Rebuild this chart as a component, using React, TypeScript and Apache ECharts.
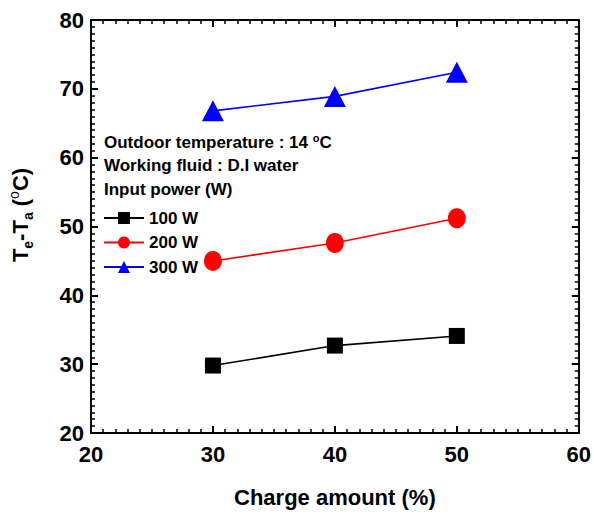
import React, { useEffect, useRef } from "react";
import * as echarts from "echarts";

const chargeAmount = [30, 40, 50];
const power100 = [29.8, 32.7, 34.1];
const power200 = [45.0, 47.6, 51.2];
const power300 = [66.8, 68.9, 72.4];
const seriesNames = ["100 W", "200 W", "300 W"];
const headerLines = ["Outdoor temperature : 14 {sup|o}C", "Working fluid : D.I water", "Input power (W)"];

const FONT = "'Liberation Sans', Arial, sans-serif";

function axisCommon(showLabel: boolean, min: number, max: number) {
  return {
    type: "value" as const,
    min,
    max,
    interval: 10,
    axisLine: { show: true, lineStyle: { color: "#000", width: 2 } },
    axisTick: { show: true, inside: true, length: 7, lineStyle: { color: "#000", width: 2 } },
    minorTick: { show: true, splitNumber: 10, length: 4, lineStyle: { color: "#000", width: 1.5 } },
    splitLine: { show: false },
    minorSplitLine: { show: false },
    axisLabel: {
      show: showLabel,
      color: "#000",
      fontFamily: FONT,
      fontWeight: "bold" as const,
      fontSize: 22,
    },
  };
}

export default function App() {
  const ref = useRef<HTMLDivElement>(null);
  useEffect(() => {
    if (!ref.current) return;
    const chart = echarts.init(ref.current, undefined, { renderer: "svg" });
    const toData = (vals: number[]) => chargeAmount.map((x, i) => [x, vals[i]]);
    const xBottom: any = axisCommon(true, 20, 60);
    xBottom.position = "bottom";
    xBottom.axisLabel.margin = 10;
    xBottom.name = "Charge amount (%)";
    xBottom.nameLocation = "middle";
    xBottom.nameGap = 53;
    xBottom.nameTextStyle = { color: "#000", fontFamily: FONT, fontWeight: "bold", fontSize: 22 };
    const xTop: any = axisCommon(false, 20, 60);
    xTop.position = "top";
    const yLeft: any = axisCommon(true, 20, 80);
    yLeft.position = "left";
    yLeft.axisLabel.margin = 7;
    const yRight: any = axisCommon(false, 20, 80);
    yRight.position = "right";

    const option: any = {
      animation: false,
      backgroundColor: "#fff",
      grid: { left: 91, right: 13, top: 20, bottom: 86, containLabel: false },
      xAxis: [xBottom, xTop],
      yAxis: [yLeft, yRight],
      legend: {
        data: seriesNames,
        orient: "vertical",
        left: 103,
        top: 206,
        padding: 0,
        itemWidth: 40,
        itemHeight: 15,
        itemGap: 0.5,
        textStyle: { color: "#000", fontFamily: FONT, fontWeight: "bold", fontSize: 17, lineHeight: 24 },
      },
      graphic: [
        ...headerLines.map((t, i) => ({
          type: "text",
          left: 104,
          top: 132 + i * 24.6,
          style: {
            text: t,
            fill: "#000",
            font: `bold 17px ${FONT}`,
            rich: {
              sup: { fontSize: 11, fontWeight: "bold", fontFamily: FONT, padding: [0, 0, 10, 0], fill: "#000" },
            },
          },
        })),
        {
          type: "text",
          x: 20,
          y: 215,
          rotation: Math.PI / 2,
          style: {
            text: "{b|T}{sub|e}{b|-T}{sub|a}{b| (}{sup|o}{b|C)}",
            align: "center",
            verticalAlign: "middle",
            fill: "#000",
            rich: {
              b: { fontSize: 22, fontWeight: "bold", fontFamily: FONT, fill: "#000" },
              sub: { fontSize: 14, fontWeight: "bold", fontFamily: FONT, padding: [16, 0, 0, 0], fill: "#000" },
              sup: { fontSize: 14, fontFamily: FONT, padding: [0, 0, 12, 0], fill: "#000" },
            },
          },
        },
      ],
      series: [
        {
          name: seriesNames[0],
          type: "line",
          data: toData(power100),
          symbol: "rect",
          symbolSize: 16,
          itemStyle: { color: "#000" },
          lineStyle: { color: "#000", width: 1.6 },
        },
        {
          name: seriesNames[1],
          type: "line",
          data: toData(power200),
          symbol: "circle",
          symbolSize: [18, 20],
          itemStyle: { color: "#ff0000" },
          lineStyle: { color: "#ff0000", width: 1.6 },
        },
        {
          name: seriesNames[2],
          type: "line",
          data: toData(power300),
          symbol: "triangle",
          symbolSize: [22, 21],
          itemStyle: { color: "#0000ff" },
          lineStyle: { color: "#0000ff", width: 1.6 },
        },
      ],
    };
    chart.setOption(option);
    return () => chart.dispose();
  }, []);
  return (
    <div
      ref={ref}
      style={{ position: "fixed", left: 0, top: 0, width: 594, height: 519, background: "#fff" }}
    />
  );
}
